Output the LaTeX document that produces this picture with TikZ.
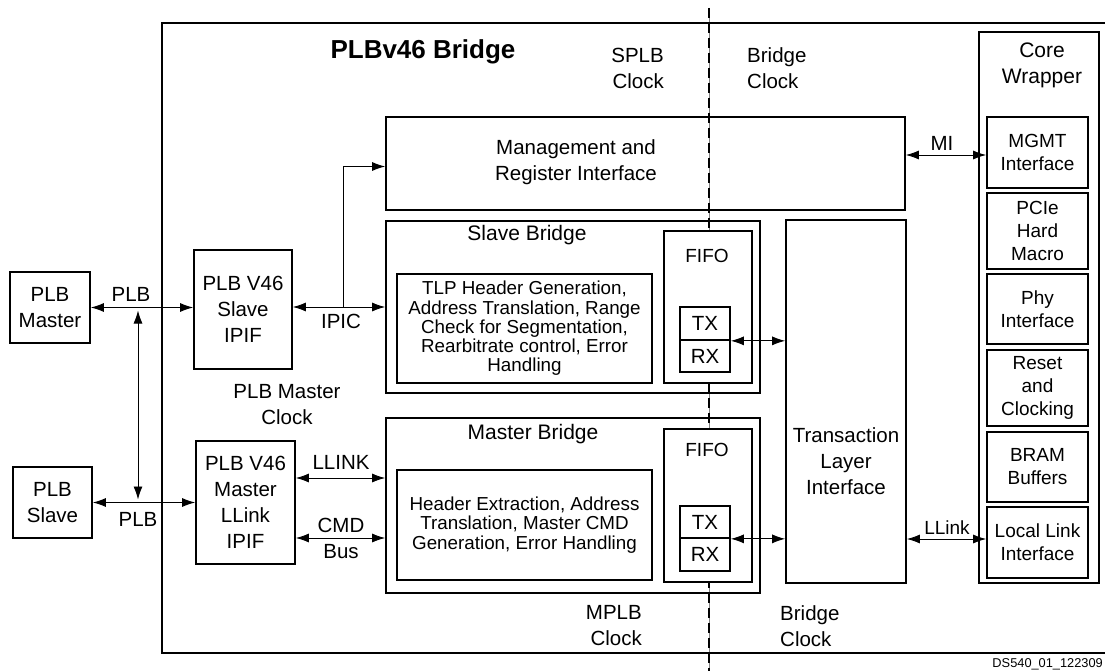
\documentclass[tikz,border=0pt]{standalone}
\usepackage{fontspec}
\setmainfont{Liberation Sans}
\usetikzlibrary{arrows.meta}

\begin{document}
\begin{tikzpicture}[x=1pt,y=-1pt,line join=miter,>={Latex[length=13pt,width=9pt]},
  blk/.style={draw,line width=1.7pt,inner sep=0pt,align=center,font=\fontsize{20.5}{26}\selectfont},
  cwblk/.style={blk,minimum width=101pt,font=\fontsize{19}{23}\selectfont},
  txt/.style={inner sep=0pt,align=center,font=\fontsize{20.5}{26}\selectfont},
  bus/.style={<->,line width=0.9pt}]
\useasboundingbox (0,0) rectangle (1105,671);

\coordinate (ctop) at (709,8);
\coordinate (cbot) at (709,671);
\draw[line width=0.5pt,gray] (ctop)--(cbot);
\draw[line width=1.8pt,dash pattern=on 10pt off 5pt] (ctop)--(cbot);
\draw[line width=1.8pt] (1112,23)--(162,23)--(162,653)--(1112,653);

\node[txt,anchor=base,font=\fontsize{26}{30}\selectfont\bfseries] (title) at (423,59) {PLBv46 Bridge};
\node[txt,anchor=east,align=right] (splbclk) at (664,68.5) {SPLB\\Clock};
\node[txt,anchor=west,align=left] (brclktop) at (747,68.5) {Bridge\\Clock};
\node[txt] (plbmclk) at (287,405) {PLB Master\\Clock};
\node[txt,anchor=east,align=right] (mplbclk) at (642,626) {MPLB\\Clock};
\node[txt,anchor=west,align=left] (brclkbot) at (780,626) {Bridge\\Clock};
\node[inner sep=0pt,anchor=base east,font=\fontsize{12.8}{15}\selectfont] (dsnum) at (1103,667) {DS540\_01\_122309};

\node[blk,minimum width=80pt,minimum height=71pt] (plbm) at (50,307.5) {PLB\\Master};
\node[blk,minimum width=79pt,minimum height=71pt] (plbs) at (52.5,502.5) {PLB\\Slave};
\node[blk,minimum width=98pt,minimum height=119pt] (sipif) at (243,309.5) {PLB V46\\Slave\\IPIF};
\node[blk,minimum width=99pt,minimum height=123pt] (mipif) at (245.5,502.5) {PLB V46\\Master\\LLink\\IPIF};

\node[blk,minimum width=519pt,minimum height=93pt] (mgmt) at (645.5,163.5) {};
\node[txt] (mgmttext) at (576,162) {Management and\\Register Interface};

\node[blk,minimum width=374pt,minimum height=172pt] (sbr) at (573,307) {};
\node[txt,font=\fontsize{21}{26}\selectfont] (sbrtext) at (527,235) {Slave Bridge};
\node[blk,minimum width=255pt,minimum height=109pt,font=\fontsize{18.8}{19.3}\selectfont] (stlp) at (524.5,328.5)
  {TLP Header Generation,\\Address Translation, Range\\Check for Segmentation,\\Rearbitrate control, Error\\Handling};
\node[blk,fill=white,minimum width=88pt,minimum height=152pt] (sfifo) at (708,307) {};
\node[txt,font=\fontsize{19}{23}\selectfont] (sfifotext) at (707,256) {FIFO};
\node[blk,minimum width=50pt,minimum height=33pt] (stx) at (705,323.5) {TX};
\node[blk,minimum width=50pt,minimum height=32pt] (srx) at (705,356) {RX};

\node[blk,minimum width=374pt,minimum height=175pt] (mbr) at (573,505.5) {};
\node[txt,font=\fontsize{21}{26}\selectfont] (mbrtext) at (533,434) {Master Bridge};
\node[blk,minimum width=255pt,minimum height=110pt,font=\fontsize{18.8}{19.3}\selectfont] (mhdr) at (524.5,525)
  {Header Extraction, Address\\Translation, Master CMD\\Generation, Error Handling};
\node[blk,fill=white,minimum width=88pt,minimum height=153pt] (mfifo) at (708,505.5) {};
\node[txt,font=\fontsize{19}{23}\selectfont] (mfifotext) at (707,450) {FIFO};
\node[blk,minimum width=50pt,minimum height=32pt] (mtx) at (705,522) {TX};
\node[blk,minimum width=50pt,minimum height=33pt] (mrx) at (705,554.5) {RX};

\node[blk,minimum width=120pt,minimum height=363pt] (tli) at (846,401.5) {};
\node[txt] (tlitext) at (846,461) {Transaction\\Layer\\Interface};

\node[blk,minimum width=120pt,minimum height=551pt] (cw) at (1039,307.5) {};
\node[txt,font=\fontsize{21}{26}\selectfont] (cwtext) at (1042,65) {Core\\Wrapper};
\node[cwblk,minimum height=71pt] (mgmtif) at (1037.5,152.5) {MGMT\\Interface};
\node[cwblk,minimum height=76pt] (pcie) at (1037.5,231) {PCIe\\Hard\\Macro};
\node[cwblk,minimum height=70pt] (phy) at (1037.5,309) {Phy\\Interface};
\node[cwblk,minimum height=76pt] (rst) at (1037.5,388) {Reset\\and\\Clocking};
\node[cwblk,minimum height=70pt] (bram) at (1037.5,467) {BRAM\\Buffers};
\node[cwblk,minimum height=71pt] (llif) at (1037.5,542.5) {Local Link\\Interface};

\coordinate (tapm) at (138,307.5);
\coordinate (taps) at (138,502.5);
\coordinate (ipicj) at (343,307);
\coordinate (llinkrow) at (340,478);
\coordinate (cmdrow) at (340,538);
\coordinate (miend) at ([yshift=-2.5pt]mgmtif.west);
\coordinate (llend) at ([yshift=3.5pt]llif.west);

\draw[bus] (plbm.east)--(plbm.east -| sipif.west);
\draw[bus] (plbs.east)--(plbs.east -| mipif.west);
\draw[bus,shorten <=3pt,shorten >=3pt] (tapm)--(taps);
\draw[bus] (sipif.east |- sbr.west)--(sbr.west);
\draw[->,line width=0.9pt] (ipicj) |- ([yshift=-3pt]mgmt.west);
\draw[bus] (mipif.east |- llinkrow)--(mbr.west |- llinkrow);
\draw[bus] (mipif.east |- cmdrow)--(mbr.west |- cmdrow);
\draw[bus] (stx.south east)--(tli.west |- stx.south east);
\draw[bus] (mtx.south east)--(tli.west |- mtx.south east);
\draw[bus] (mgmt.east |- miend)--(miend);
\draw[bus] (tli.east |- llend)--(llend);

\node[txt] (plbtop) at (131,294) {PLB};
\node[txt] (plbbot) at (138,519) {PLB};
\node[txt] (ipic) at (341,321) {IPIC};
\node[txt] (llink) at (341,462) {LLINK};
\node[txt] (cmdbus) at (341,538) {CMD\\Bus};
\node[txt] (mi) at (942,143) {MI};
\node[txt,font=\fontsize{19}{23}\selectfont] (llinklbl) at (947,528) {LLink};
\end{tikzpicture}
\end{document}
